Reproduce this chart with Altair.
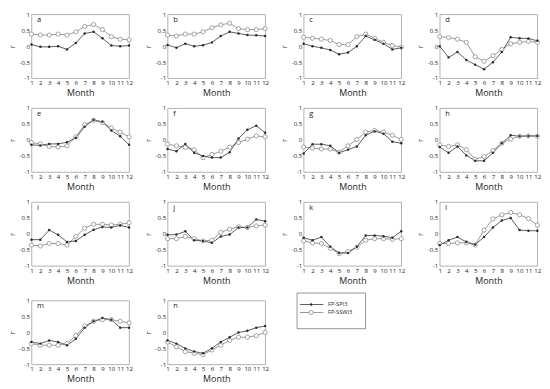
import altair as alt
import pandas as pd

months = list(range(1, 13))
letters = ["a", "b", "c", "d", "e", "f", "g", "h", "i", "j", "k", "l", "m", "n"]

spi3_a = [0.05, -0.02, -0.02, 0.0, -0.1, 0.1, 0.4, 0.45, 0.25, 0.02, 0.0, 0.02]
sswi3_a = [0.38, 0.35, 0.35, 0.38, 0.35, 0.45, 0.62, 0.68, 0.52, 0.3, 0.22, 0.2]
spi3_b = [0.04, -0.05, 0.08, 0.0, 0.03, 0.12, 0.32, 0.45, 0.4, 0.35, 0.34, 0.32]
sswi3_b = [0.35, 0.32, 0.38, 0.38, 0.45, 0.58, 0.67, 0.72, 0.55, 0.52, 0.52, 0.55]
spi3_c = [0.08, 0.0, -0.05, -0.12, -0.25, -0.2, 0.0, 0.32, 0.2, 0.08, -0.1, -0.05]
sswi3_c = [0.28, 0.25, 0.22, 0.18, 0.05, 0.05, 0.3, 0.38, 0.25, 0.12, 0.02, -0.03]
spi3_d = [0.0, -0.35, -0.18, -0.43, -0.58, -0.72, -0.5, -0.18, 0.28, 0.25, 0.24, 0.17]
sswi3_d = [0.3, 0.27, 0.22, 0.12, -0.33, -0.47, -0.3, -0.1, 0.08, 0.12, 0.15, 0.13]
spi3_e = [-0.15, -0.17, -0.12, -0.12, -0.07, 0.07, 0.42, 0.63, 0.57, 0.3, 0.12, -0.15]
sswi3_e = [-0.08, -0.12, -0.2, -0.22, -0.18, 0.1, 0.48, 0.62, 0.55, 0.38, 0.25, 0.1]
spi3_f = [-0.28, -0.35, -0.12, -0.4, -0.5, -0.55, -0.55, -0.38, 0.05, 0.32, 0.45, 0.23]
sswi3_f = [-0.13, -0.18, -0.23, -0.3, -0.55, -0.45, -0.35, -0.22, -0.08, 0.03, 0.13, 0.1]
spi3_g = [-0.42, -0.13, -0.13, -0.18, -0.4, -0.3, -0.2, 0.15, 0.28, 0.2, -0.05, -0.1]
sswi3_g = [-0.22, -0.25, -0.28, -0.28, -0.38, -0.18, 0.02, 0.25, 0.3, 0.25, 0.15, 0.02]
spi3_h = [-0.22, -0.4, -0.2, -0.48, -0.65, -0.65, -0.4, -0.1, 0.15, 0.12, 0.13, 0.13]
sswi3_h = [-0.15, -0.2, -0.15, -0.3, -0.6, -0.52, -0.33, -0.1, 0.03, 0.12, 0.13, 0.12]
spi3_i = [-0.18, -0.18, 0.12, -0.03, -0.25, -0.22, -0.03, 0.13, 0.22, 0.2, 0.27, 0.2]
sswi3_i = [-0.35, -0.38, -0.3, -0.3, -0.35, -0.08, 0.18, 0.3, 0.3, 0.28, 0.3, 0.35]
spi3_j = [-0.03, -0.02, 0.08, -0.2, -0.22, -0.28, -0.08, -0.02, 0.2, 0.2, 0.45, 0.4]
sswi3_j = [-0.15, -0.15, -0.08, -0.15, -0.22, -0.2, 0.05, 0.15, 0.22, 0.2, 0.25, 0.28]
spi3_k = [-0.12, -0.2, -0.1, -0.4, -0.6, -0.6, -0.4, -0.05, -0.05, -0.07, -0.12, 0.08]
sswi3_k = [-0.22, -0.28, -0.3, -0.45, -0.62, -0.55, -0.42, -0.2, -0.15, -0.15, -0.17, -0.15]
spi3_l = [-0.35, -0.2, -0.1, -0.25, -0.33, -0.1, 0.2, 0.42, 0.5, 0.12, 0.1, 0.1]
sswi3_l = [-0.3, -0.3, -0.28, -0.28, -0.35, 0.12, 0.47, 0.6, 0.67, 0.6, 0.48, 0.28]
spi3_m = [-0.3, -0.35, -0.25, -0.3, -0.4, -0.2, 0.15, 0.35, 0.45, 0.4, 0.15, 0.15]
sswi3_m = [-0.35, -0.4, -0.4, -0.4, -0.35, -0.1, 0.2, 0.35, 0.4, 0.4, 0.35, 0.3]
spi3_n = [-0.25, -0.35, -0.5, -0.6, -0.65, -0.5, -0.3, -0.15, 0.0, 0.05, 0.15, 0.2]
sswi3_n = [-0.3, -0.45, -0.6, -0.65, -0.7, -0.55, -0.4, -0.25, -0.15, -0.15, -0.1, 0.0]

series_names = ["FP-SPI3", "FP-SSWI3"]
y_ticks = [-1, -0.5, 0, 0.5, 1]

spi_all = [spi3_a, spi3_b, spi3_c, spi3_d, spi3_e, spi3_f, spi3_g,
           spi3_h, spi3_i, spi3_j, spi3_k, spi3_l, spi3_m, spi3_n]
sswi_all = [sswi3_a, sswi3_b, sswi3_c, sswi3_d, sswi3_e, sswi3_f, sswi3_g,
            sswi3_h, sswi3_i, sswi3_j, sswi3_k, sswi3_l, sswi3_m, sswi3_n]

DARK = "#2b2b2b"
GREY = "#7a7a7a"
W, H = 104, 68


def panel(letter, spi, sswi):
    d_spi = pd.DataFrame({"Month": months, "r": spi})
    d_ssw = pd.DataFrame({"Month": months, "r": sswi})
    x = alt.X("Month:Q", scale=alt.Scale(domain=[1, 12], nice=False, zero=False),
              axis=alt.Axis(values=months, title="Month", format="d", grid=False,
                            ticks=False, domain=False, labelFontSize=6.5,
                            titleFontSize=9.5, labelPadding=2, titlePadding=2,
                            labelFlush=False, labelColor="#222", titleColor="#222",
                            titleFontWeight="normal"))
    y = alt.Y("r:Q", scale=alt.Scale(domain=[-1, 1], nice=False),
              axis=alt.Axis(values=y_ticks, labelExpr="'' + datum.value", title="r",
                            grid=False, ticks=False, domain=False, labelFontSize=6.5,
                            titleFontSize=8, labelPadding=2, titlePadding=3,
                            labelFlush=False, labelColor="#222", titleColor="#222",
                            titleFontWeight="normal"))
    l1 = alt.Chart(d_ssw).mark_line(color=GREY, strokeWidth=0.8).encode(x=x, y=y)
    l2 = alt.Chart(d_spi).mark_line(color=DARK, strokeWidth=0.8).encode(x=x, y=y)
    p1 = alt.Chart(d_ssw).mark_point(shape="circle", filled=False, fill="white",
                                     stroke=GREY, strokeWidth=0.7, size=20,
                                     opacity=1).encode(x=x, y=y)
    p2 = alt.Chart(d_spi).mark_point(shape="circle", filled=True, color=DARK,
                                     size=7, opacity=1).encode(x=x, y=y)
    lab = alt.Chart(pd.DataFrame({"t": [letter]})).mark_text(
        align="left", baseline="top", fontSize=8, color="#222").encode(
        text="t:N", x=alt.value(6), y=alt.value(2))
    return alt.layer(l1, l2, p1, p2, lab).properties(width=W, height=H)


charts = [panel(letters[i], spi_all[i], sswi_all[i]) for i in range(14)]

# legend panel
leg = pd.DataFrame({"series": series_names})
ly = alt.Y("series:N", scale=alt.Scale(domain=series_names, range=[0, 17], padding=0), axis=None)
box = alt.Chart(pd.DataFrame({"b": [0]})).mark_rect(
    fill="white", stroke="#444", strokeWidth=0.6).encode(
    x=alt.value(17), x2=alt.value(90), y=alt.value(-8), y2=alt.value(30))
lrule = alt.Chart(leg).mark_rule(strokeWidth=0.8).encode(
    x=alt.value(20), x2=alt.value(45), y=ly,
    color=alt.Color("series:N", scale=alt.Scale(domain=series_names, range=[DARK, GREY]), legend=None))
lp1 = alt.Chart(leg).transform_filter(alt.datum.series == "FP-SSWI3").mark_point(
    shape="circle", filled=False, fill="white", stroke=GREY, strokeWidth=0.7,
    size=20, opacity=1).encode(x=alt.value(32), y=ly)
lp2 = alt.Chart(leg).transform_filter(alt.datum.series == "FP-SPI3").mark_point(
    shape="circle", filled=True, color=DARK, size=7, opacity=1).encode(x=alt.value(32), y=ly)
ltxt = alt.Chart(leg).mark_text(align="left", baseline="middle", fontSize=6,
                                color="#222").encode(x=alt.value(50), y=ly, text="series:N")
legend_chart = alt.layer(box, lrule, lp1, lp2, ltxt).properties(
    width=90, height=H, view=alt.ViewConfig(stroke="transparent"))

rows = [
    alt.hconcat(*charts[0:4], spacing=11),
    alt.hconcat(*charts[4:8], spacing=11),
    alt.hconcat(*charts[8:12], spacing=11),
    alt.hconcat(charts[12], charts[13], legend_chart, spacing=11),
]

chart = alt.vconcat(*rows, spacing=7).properties(
    padding={"left": 0, "top": -10, "right": 0, "bottom": 0}
).configure(font="Open Sans").configure_view(stroke="#999", strokeWidth=0.8)

chart.save("out.html", embed_options={"renderer": "svg", "actions": False})
